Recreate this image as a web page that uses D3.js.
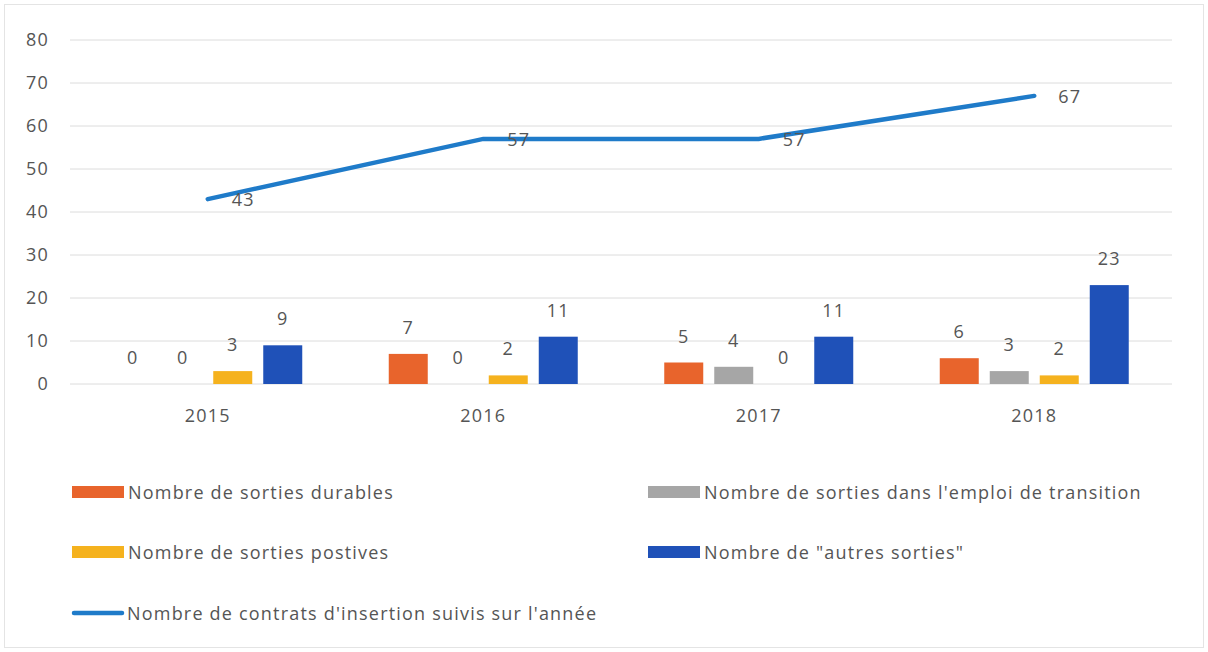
<!DOCTYPE html>
<html>
<head>
<meta charset="utf-8">
<script src="https://cdn.jsdelivr.net/npm/d3@7"></script>
<style>
  body { margin: 0; background: #fff; }
  svg text { font-family: "Open Sans", "DejaVu Sans", sans-serif; fill: #555; letter-spacing: 1.2px; }
</style>
</head>
<body>
<svg id="chart" width="1208" height="652"></svg>
<script>
// data
var years = ["2015", "2016", "2017", "2018"];
var durables = [0, 7, 5, 6];
var transition = [0, 0, 4, 3];
var positives = [3, 2, 0, 2];
var autres = [9, 11, 11, 23];
var contrats = [43, 57, 57, 67];
var yTicks = [0, 10, 20, 30, 40, 50, 60, 70, 80];

var barSeries = [
    {name: "Nombre de sorties durables", values: durables, color: "#e8642c"},
    {name: "Nombre de sorties dans l'emploi de transition", values: transition, color: "#a6a6a6"},
    {name: "Nombre de sorties postives", values: positives, color: "#f5b21e"},
    {name: "Nombre de \"autres sorties\"", values: autres, color: "#1f51b8"}
];
var lineName = "Nombre de contrats d'insertion suivis sur l'année";
var lineColor = "#1f7bc9";

var svg = d3.select("#chart");
var plotLeft = 70, plotRight = 1172, plotTop = 40, plotBottom = 384;

svg.append("rect")
    .attr("x", 4.5).attr("y", 4.5).attr("width", 1199).attr("height", 643)
    .attr("fill", "none").attr("stroke", "#e4e4e4");

var x = d3.scaleBand().domain(years).range([plotLeft, plotRight]);
var y = d3.scaleLinear().domain([0, 80]).range([plotBottom, plotTop]);
var xs = d3.scaleBand().domain(d3.range(barSeries.length))
    .range([-100, 100]).paddingInner(0.22).paddingOuter(0.11);

// gridlines
svg.append("g").selectAll("line")
    .data(yTicks).enter().append("line")
    .attr("x1", plotLeft).attr("x2", plotRight)
    .attr("y1", function(d) { return y(d); })
    .attr("y2", function(d) { return y(d); })
    .attr("stroke", "#dcdcdc").attr("stroke-width", 1);

// y axis labels
var yAxis = svg.append("g")
    .attr("transform", "translate(" + (plotLeft - 21) + ",0)")
    .call(d3.axisLeft(y).tickValues(yTicks).tickSize(0).tickPadding(0));
yAxis.select(".domain").remove();
yAxis.selectAll("text")
    .style("font-size", "18px").attr("fill", "#5a5a5a");

// x axis labels
var xAxis = svg.append("g")
    .attr("transform", "translate(0," + (plotBottom + 25) + ")")
    .call(d3.axisBottom(x).tickSize(0).tickPadding(0));
xAxis.select(".domain").remove();
xAxis.selectAll("text")
    .style("font-size", "18px").attr("fill", "#5a5a5a");

// bars
barSeries.forEach(function(s, si) {
    var g = svg.append("g");
    g.selectAll("rect")
        .data(s.values).enter().append("rect")
        .attr("x", function(d, i) { return x(years[i]) + x.bandwidth() / 2 + xs(si); })
        .attr("y", function(d) { return y(d); })
        .attr("width", xs.bandwidth())
        .attr("height", function(d) { return y(0) - y(d); })
        .attr("fill", s.color);
    g.selectAll("text")
        .data(s.values).enter().append("text")
        .attr("x", function(d, i) { return x(years[i]) + x.bandwidth() / 2 + xs(si) + xs.bandwidth() / 2; })
        .attr("y", function(d) { return y(d) - 20; })
        .attr("text-anchor", "middle")
        .style("font-size", "18px")
        .attr("fill", "#404040")
        .text(function(d) { return d; });
});

// line
var line = d3.line()
    .x(function(d, i) { return x(years[i]) + x.bandwidth() / 2; })
    .y(function(d) { return y(d); });
svg.append("path")
    .datum(contrats)
    .attr("d", line)
    .attr("fill", "none")
    .attr("stroke", lineColor)
    .attr("stroke-width", 4.5)
    .attr("stroke-linecap", "round");
svg.append("g").selectAll("text")
    .data(contrats).enter().append("text")
    .attr("x", function(d, i) { return x(years[i]) + x.bandwidth() / 2 + 24; })
    .attr("y", function(d) { return y(d) + 7; })
    .style("font-size", "18px")
    .attr("fill", "#404040")
    .text(function(d) { return d; });

// legend
var legendItems = [
    {s: barSeries[0], x: 72, y: 492},
    {s: barSeries[1], x: 648, y: 492},
    {s: barSeries[2], x: 72, y: 552},
    {s: barSeries[3], x: 648, y: 552}
];
var leg = svg.append("g");
legendItems.forEach(function(it) {
    leg.append("rect")
        .attr("x", it.x).attr("y", it.y - 6)
        .attr("width", 52).attr("height", 12)
        .attr("fill", it.s.color);
    leg.append("text")
        .attr("x", it.x + 56).attr("y", it.y + 7)
        .style("font-size", "18px")
        .attr("fill", "#5a5a5a")
        .text(it.s.name);
});
leg.append("line")
    .attr("x1", 74).attr("x2", 122).attr("y1", 613).attr("y2", 613)
    .attr("stroke", lineColor).attr("stroke-width", 4.5)
    .attr("stroke-linecap", "round");
leg.append("text")
    .attr("x", 127).attr("y", 620)
    .style("font-size", "18px")
    .attr("fill", "#5a5a5a")
    .text(lineName);
</script>
</body>
</html>
